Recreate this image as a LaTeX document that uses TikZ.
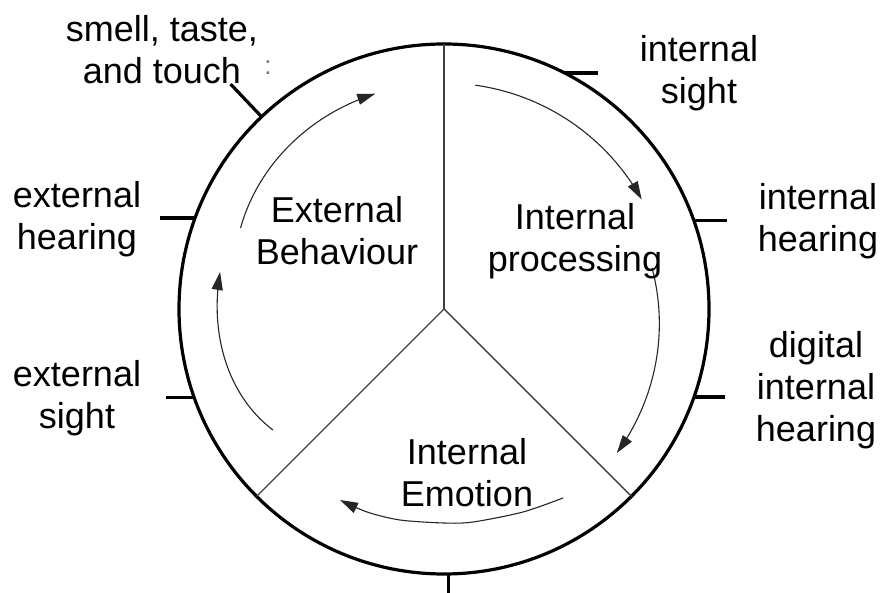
\documentclass[tikz,border=0pt]{standalone}
\usepackage{fontspec}
\setmainfont{Liberation Sans}
\usetikzlibrary{arrows.meta}
\begin{document}
\begin{tikzpicture}[x=1pt,y=1pt,
  lbl/.style={font=\fontsize{36}{42}\selectfont, inner sep=0pt, anchor=base},
  rim/.style={line width=3.2pt},
  ticker/.style={line width=3.2pt},
  divider/.style={line width=1.4pt, black!75},
  cyc/.style={line width=1.1pt, black!85, -{Triangle[length=18pt,width=11pt]}}]
\useasboundingbox (0,0) rectangle (883,593);
\coordinate (C) at (444,284);
% rim
\draw[rim] (C) circle[radius=265];
% dividers
\coordinate (dTop) at ([shift={(90:265)}]C);
\coordinate (dLeft) at ([shift={(225:265)}]C);
\coordinate (dRight) at ([shift={(315:265)}]C);
\draw[divider] (C) -- (dTop);
\draw[divider] (C) -- (dLeft);
\draw[divider] (C) -- (dRight);
% ticks
\coordinate (tSmell) at ([shift={(133.5:265)}]C);
\coordinate (tSmellO) at ([shift={(133.5:310)}]C);
\draw[ticker] (tSmell) -- (tSmellO);
\coordinate (tISight) at ([shift={(62.9:265)}]C);
\draw[ticker] (tISight) -- ++(33,0);
\coordinate (tEHear) at ([shift={(159.9:265)}]C);
\draw[ticker] (tEHear) -- ++(-35,0);
\coordinate (tIHear) at ([shift={(19.6:265)}]C);
\draw[ticker] (tIHear) -- ++(33,0);
\coordinate (tESight) at ([shift={(199.6:265)}]C);
\draw[ticker] (tESight) -- ++(-28,0);
\coordinate (tDig) at ([shift={(-19.4:265)}]C);
\draw[ticker] (tDig) -- ++(31,0);
\coordinate (tBot) at ([shift={(-89:265)}]C);
\draw[ticker] (tBot) -- ++(0,-20);
% cycle arrows
\draw[cyc, shift={(C)}] plot[domain=158.3:107.7, samples=50] (\x:{226-7*((\x-107.7)/50.6)^3});
\draw[cyc, shift={(C)}] plot[domain=82:29, samples=50] (\x:226);
\draw[cyc, shift={(C)}] plot[domain=11.2:-39.8, samples=50] (\x:{212+13*(11.2-\x)/51});
\draw[cyc] plot[smooth] coordinates {(563,95) (523,81) (473,71) (444,70) (400,73) (367,81) (340,93)};
\draw[cyc, shift={(C)}] plot[domain=215.3:170.6, samples=50] (\x:{227-17.5*((\x-170.6)/44.7)^3});
% labels
\node[lbl] (smell) at (162,551) {\begin{tabular}[t]{@{}c@{}}smell, taste,\\and touch\end{tabular}};
\node[inner sep=0pt, anchor=base, font=\fontsize{26}{30}\selectfont, text=black!55] (colon) at (268,518) {:};
\node[lbl] (eHear) at (77,385) {\begin{tabular}[t]{@{}c@{}}external\\hearing\end{tabular}};
\node[lbl] (eBeh) at (337,370) {\begin{tabular}[t]{@{}c@{}}External\\Behaviour\end{tabular}};
\node[lbl] (iSight) at (699,531) {\begin{tabular}[t]{@{}c@{}}internal\\sight\end{tabular}};
\node[lbl] (iProc) at (575,363) {\begin{tabular}[t]{@{}c@{}}Internal\\processing\end{tabular}};
\node[lbl] (iHear) at (818,383) {\begin{tabular}[t]{@{}c@{}}internal\\hearing\end{tabular}};
\node[lbl] (eSight) at (77,206) {\begin{tabular}[t]{@{}c@{}}external\\sight\end{tabular}};
\node[lbl] (dHear) at (816,235) {\begin{tabular}[t]{@{}c@{}}digital\\internal\\hearing\end{tabular}};
\node[lbl] (iEmo) at (467,128) {\begin{tabular}[t]{@{}c@{}}Internal\\Emotion\end{tabular}};
\end{tikzpicture}
\end{document}
